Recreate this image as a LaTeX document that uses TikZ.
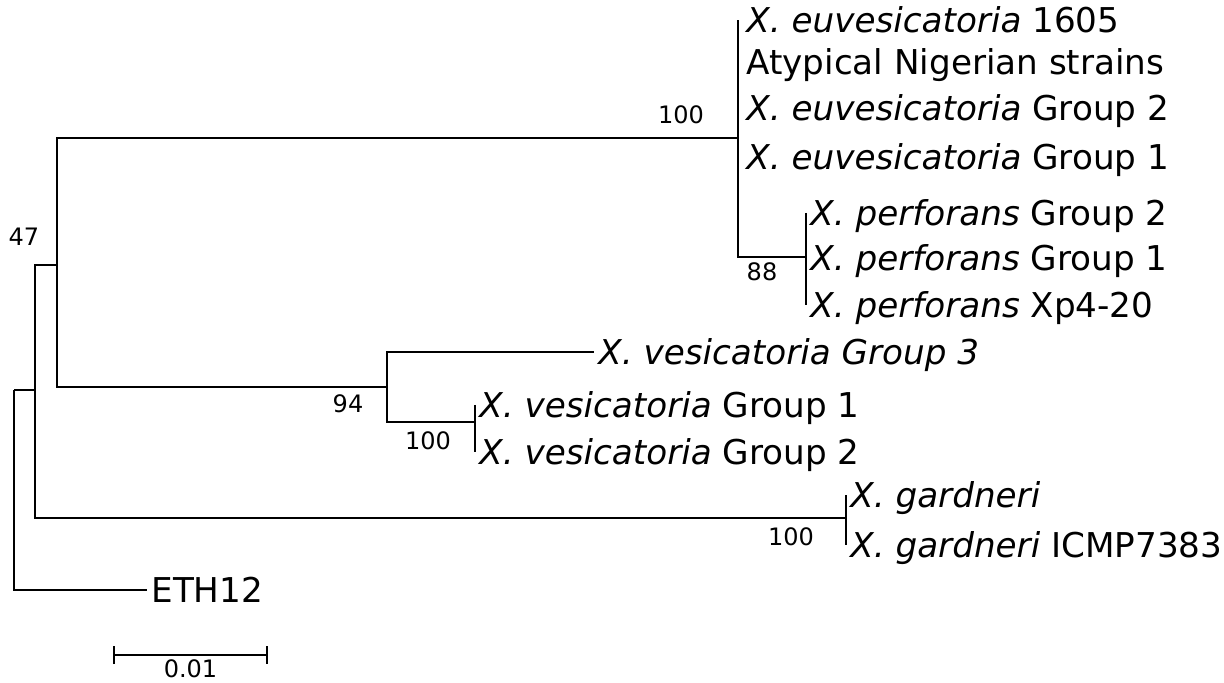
\documentclass[tikz,border=0pt]{standalone}
\usepackage{fontspec}
\setmainfont{DejaVu Sans}
\usepackage{tikz}
\usetikzlibrary{arrows.meta, positioning}
\tikzstyle{branch} = [line width=1pt, black]
\tikzstyle{taxon} = [anchor=west, inner xsep=2pt, inner ysep=0pt, text height=12.5pt, text depth=0pt, font=\fontsize{17.1}{20}\selectfont]
\tikzstyle{boot} = [inner sep=0pt, font=\fontsize{12}{14}\selectfont]
\tikzstyle{scalebar} = [line width=1pt, {Bar[width=9pt]}-{Bar[width=9pt]}]

\begin{document}
\begin{tikzpicture}[x=0.5pt, y=-0.5pt]
\useasboundingbox (0,0) rectangle (1224,683);

% inner nodes of the tree
\coordinate (root) at (14,390);
\coordinate (nA) at (35,390);
\coordinate (nB) at (57,265);
\coordinate (nEuv) at (738,138);
\coordinate (nPerf) at (806,257);
\coordinate (nVes) at (387,387);
\coordinate (nVes12) at (475,422);
\coordinate (nGard) at (846,518);

% taxa
\node (euv1605) [taxon] at (742,20) {\textit{X. euvesicatoria} 1605};
\node (nigeria) [taxon] at (742,62) {Atypical Nigerian strains};
\node (euvG2) [taxon] at (742,108) {\textit{X. euvesicatoria} Group 2};
\node (euvG1) [taxon] at (742,157) {\textit{X. euvesicatoria} Group 1};
\node (perfG2) [taxon] at (806,213) {\textit{X. perforans} Group 2};
\node (perfG1) [taxon] at (806,258) {\textit{X. perforans} Group 1};
\node (perfXp) [taxon] at (806,305) {\textit{X. perforans} Xp4-20};
\node (vesG3) [taxon] at (594,352) {\textit{X. vesicatoria Group 3}};
\node (vesG1) [taxon] at (475,405) {\textit{X. vesicatoria} Group 1};
\node (vesG2) [taxon] at (475,452) {\textit{X. vesicatoria} Group 2};
\node (gard) [taxon] at (846,495) {\textit{X. gardneri}};
\node (gardICMP) [taxon] at (846,545) {\textit{X. gardneri} ICMP7383};
\node (eth) [taxon] at (147,590) {ETH12};

% branches
\draw [branch] (root) -- (nA);
\draw [branch] (root) |- (eth.west);
\draw [branch] (nA) |- (nB);
\draw [branch] (nA) |- (nGard);
\draw [branch] (nB) |- (nEuv);
\draw [branch] (nB) |- (nVes);
\draw [branch] (nEuv) -- (nEuv |- euv1605.west);
\draw [branch] (nEuv) |- (nPerf);
\draw [branch] (nPerf |- perfG2.west) -- (nPerf |- perfXp.west);
\draw [branch] (nVes) |- (vesG3.west);
\draw [branch] (nVes) |- (nVes12);
\draw [branch] (nVes12 |- vesG1.west) -- (nVes12 |- vesG2.west);
\draw [branch] (nGard |- gard.west) -- (nGard |- gardICMP.west);

% bootstrap values
\node (bs47) [boot] at (24,237) {47};
\node (bsEuv) [boot] at (681,115) {100};
\node (bsPerf) [boot] at (762,272) {88};
\node (bsVes) [boot] at (348,404) {94};
\node (bsVes12) [boot] at (428,441) {100};
\node (bsGard) [boot] at (791,537) {100};

% scale
\coordinate (sbL) at (113,655);
\coordinate (sbR) at (268,655);
\draw [scalebar] (sbL) -- node[boot, below=2pt] (sbText) {0.01} (sbR);

\end{tikzpicture}
\end{document}
